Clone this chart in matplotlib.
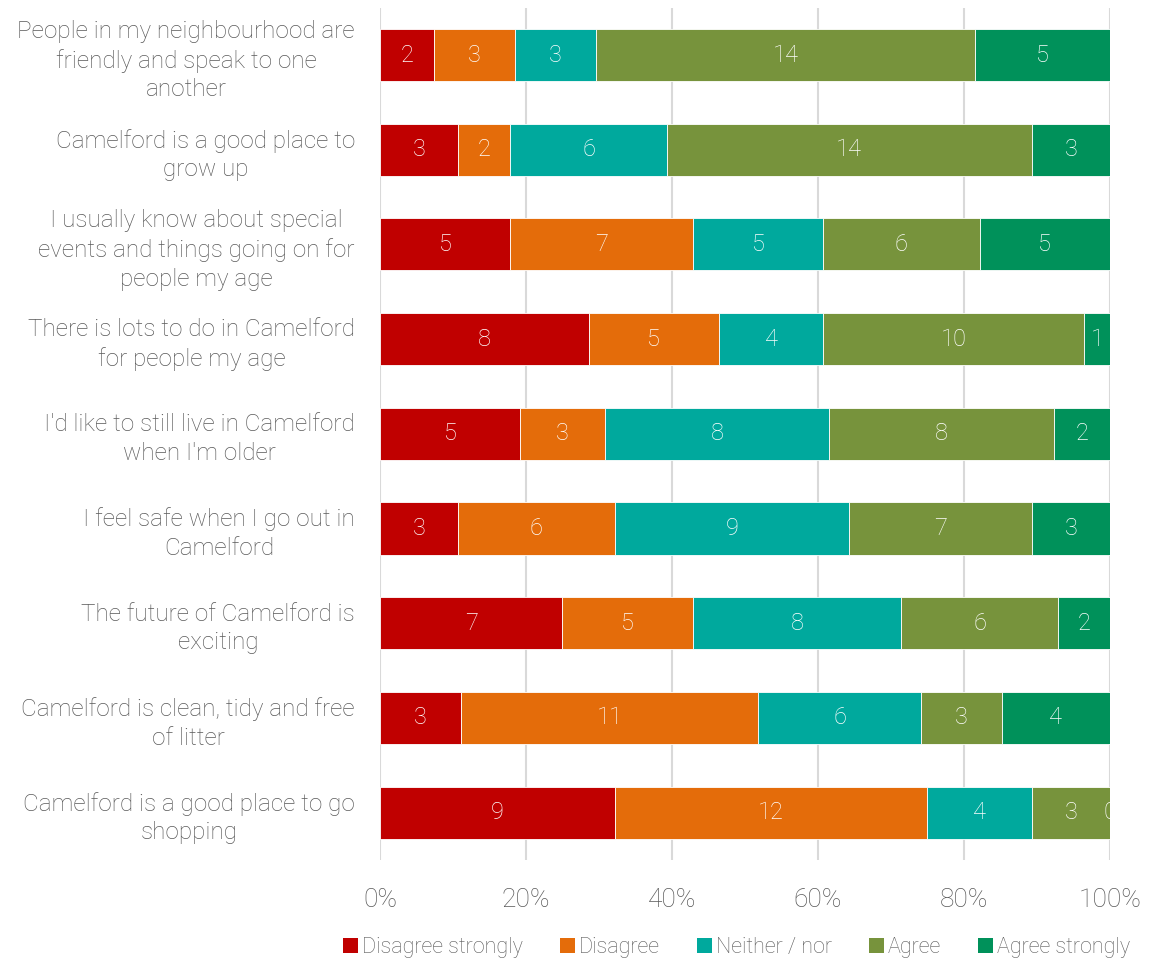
import numpy as np
import matplotlib.pyplot as plt
from matplotlib.patches import Patch

plt.rcParams['font.family'] = ['Roboto', 'DejaVu Sans']

# Survey statements (top to bottom) and response counts
statements = [
    "People in my neighbourhood are\nfriendly and speak to one\nanother",
    "Camelford is a good place to\ngrow up",
    "I usually know about special\nevents and things going on for\npeople my age",
    "There is lots to do in Camelford\nfor people my age",
    "I'd like to still live in Camelford\nwhen I'm older",
    "I feel safe when I go out in\nCamelford",
    "The future of Camelford is\nexciting",
    "Camelford is clean, tidy and free\nof litter",
    "Camelford is a good place to go\nshopping",
]
responses = ["Disagree strongly", "Disagree", "Neither / nor", "Agree", "Agree strongly"]
disagree_strongly = [2, 3, 5, 8, 5, 3, 7, 3, 9]
disagree = [3, 2, 7, 5, 3, 6, 5, 11, 12]
neither = [3, 6, 5, 4, 8, 9, 8, 6, 4]
agree = [14, 14, 6, 10, 8, 7, 6, 3, 3]
agree_strongly = [5, 3, 5, 1, 2, 3, 2, 4, 0]
colors = ["#C00000", "#E46C0A", "#00A99D", "#77933C", "#00915A"]

counts = np.array([disagree_strongly, disagree, neither, agree, agree_strongly], dtype=float)
shares = counts / counts.sum(axis=0)

fig = plt.figure(figsize=(11.49, 9.63), dpi=100)
ax = fig.add_axes([0.3307, 0.107, 0.6353, 0.885])

y = np.arange(len(statements))
left = np.zeros(len(statements))
for i, name in enumerate(responses):
    ax.barh(y, shares[i], left=left, height=0.55, color=colors[i],
            edgecolor="white", linewidth=0.6, label=name, zorder=3)
    for j in range(len(statements)):
        ax.text(left[j] + shares[i][j] / 2, y[j], f"{int(counts[i][j])}",
                ha="center", va="center", color="white", fontsize=17,
                fontweight="light", zorder=4, clip_on=True)
    left += shares[i]

ax.set_xlim(0, 1)
ax.set_ylim(len(statements) - 0.5, -0.5)
ax.set_xticks(np.linspace(0, 1, 6))
ax.set_xticklabels([f"{int(v)}%" for v in np.linspace(0, 100, 6)])
ax.set_yticks(y)
ax.set_yticklabels(statements, multialignment="center", linespacing=1.32)
ax.tick_params(axis="y", length=0, pad=18, labelsize=17.5, labelcolor="#595959")
ax.tick_params(axis="x", length=0, pad=20, labelsize=19, labelcolor="#595959")
for lbl in ax.get_xticklabels() + ax.get_yticklabels():
    lbl.set_fontweight("light")
ax.grid(axis="x", color="#d9d9d9", linewidth=1.5, zorder=0)
for s in ax.spines.values():
    s.set_visible(False)

handles = [Patch(facecolor=c, label=n) for c, n in zip(colors, responses)]
fig.legend(handles=handles, loc="center", bbox_to_anchor=(0.641, 0.016), ncol=5,
           frameon=False, handlelength=0.7, handleheight=0.7,
           handletextpad=0.2, columnspacing=1.7, labelcolor="#595959",
           prop={"family": ["Roboto", "DejaVu Sans"], "weight": "light", "size": 15.5})

fig.savefig("out.png", dpi=100)
